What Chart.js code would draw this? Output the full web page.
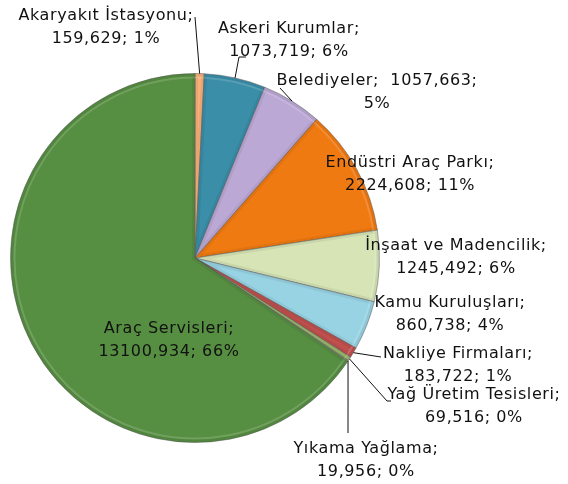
<!DOCTYPE html>
<html>
<head>
<meta charset="utf-8">
<script src="https://cdn.jsdelivr.net/npm/chart.js@4.4.1/dist/chart.umd.min.js"></script>
<style>
  html, body { margin: 0; padding: 0; background: #fff; }
  #wrap { width: 568px; height: 484px; position: relative; }
</style>
</head>
<body>
<div id="wrap"><canvas id="pieChart"></canvas></div>
<script>
// data (thousands, Turkish decimal comma)
const categories = [
  'Akaryakıt İstasyonu', 'Askeri Kurumlar', 'Belediyeler', 'Endüstri Araç Parkı',
  'İnşaat ve Madencilik', 'Kamu Kuruluşları', 'Nakliye Firmaları',
  'Yağ Üretim Tesisleri', 'Yıkama Yağlama', 'Araç Servisleri'
];
const values = [159.629, 1073.719, 1057.663, 2224.608, 1245.492, 860.738, 183.722, 69.516, 19.956, 13100.934];
const percentLabels = ['1%', '6%', '5%', '11%', '6%', '4%', '1%', '0%', '0%', '66%'];

const sliceColors = ['#F7B07A', '#3A8EA8', '#BCA8D5', '#F07A12', '#D6E4B6', '#98D3E4', '#C0504D', '#9BB76A', '#7F9F5A', '#578F42'];

// where each label sits: centre x, first line y, and extra leader points
const labelLayout = [
  { x: 106, y: 15, join: false, leader: [[195, 17]] },
  { x: 289, y: 28, join: false, leader: [[239, 57], [246, 57]] },
  { x: 377, y: 80, join: true, leader: [[280, 88]] },
  { x: 410, y: 162, join: false, leader: null },
  { x: 456, y: 245, join: false, leader: null },
  { x: 450, y: 302, join: false, leader: null },
  { x: 458, y: 353, join: false, leader: [[381, 357]] },
  { x: 474, y: 394, join: false, leader: [[387, 401], [391, 401]] },
  { x: 366, y: 448, join: false, leader: [[348, 433]] },
  { x: 169, y: 328, join: false, leader: null }
];

function fmt(v) {
  return v.toFixed(3).replace('.', ',');
}

function labelLines(i) {
  if (labelLayout[i].join) {
    return [categories[i] + ';  ' + fmt(values[i]) + ';', percentLabels[i]];
  }
  return [categories[i] + ';', fmt(values[i]) + '; ' + percentLabels[i]];
}

// soft bevel round each slice, a rough stand-in for the office 3D look
const bevelPlugin = {
  id: 'bevel',
  afterDatasetsDraw(chart) {
    const ctx = chart.ctx;
    chart.getDatasetMeta(0).data.forEach((arc) => {
      ctx.save();
      ctx.beginPath();
      ctx.moveTo(arc.x, arc.y);
      ctx.arc(arc.x, arc.y, arc.outerRadius, arc.startAngle, arc.endAngle);
      ctx.closePath();
      ctx.clip();
      ctx.strokeStyle = 'rgba(0,0,0,0.06)';
      ctx.lineWidth = 6;
      ctx.stroke();
      ctx.strokeStyle = 'rgba(255,255,255,0.15)';
      ctx.lineWidth = 2;
      ctx.beginPath();
      ctx.arc(arc.x, arc.y, arc.outerRadius - 4, arc.startAngle, arc.endAngle);
      ctx.stroke();
      ctx.restore();
    });
  }
};

const labelPlugin = {
  id: 'sliceLabels',
  afterDatasetsDraw(chart) {
    const ctx = chart.ctx;
    const arcs = chart.getDatasetMeta(0).data;
    ctx.save();
    ctx.font = '16px "DejaVu Sans"';
    ctx.letterSpacing = '0.6px';
    ctx.fillStyle = '#111';
    ctx.textAlign = 'center';
    ctx.textBaseline = 'middle';
    arcs.forEach((arc, i) => {
      const lay = labelLayout[i];
      if (lay.leader) {
        const mid = (arc.startAngle + arc.endAngle) / 2;
        ctx.strokeStyle = '#111';
        ctx.lineWidth = 1;
        ctx.beginPath();
        ctx.moveTo(arc.x + Math.cos(mid) * arc.outerRadius, arc.y + Math.sin(mid) * arc.outerRadius);
        lay.leader.forEach(p => ctx.lineTo(p[0], p[1]));
        ctx.stroke();
      }
      labelLines(i).forEach((line, k) => {
        ctx.fillText(line, lay.x, lay.y + 1 + k * 23);
      });
    });
    ctx.restore();
  }
};

new Chart(document.getElementById('pieChart'), {
  type: 'pie',
  data: {
    labels: categories,
    datasets: [{
      data: values,
      backgroundColor: sliceColors,
      borderColor: 'rgba(90,90,90,0.5)',
      borderWidth: 1
    }]
  },
  options: {
    responsive: true,
    maintainAspectRatio: false,
    animation: false,
    layout: { padding: { left: 10, right: 188, top: 73, bottom: 41 } },
    plugins: {
      legend: { display: false },
      tooltip: { enabled: false }
    }
  },
  plugins: [bevelPlugin, labelPlugin]
});
</script>
</body>
</html>
